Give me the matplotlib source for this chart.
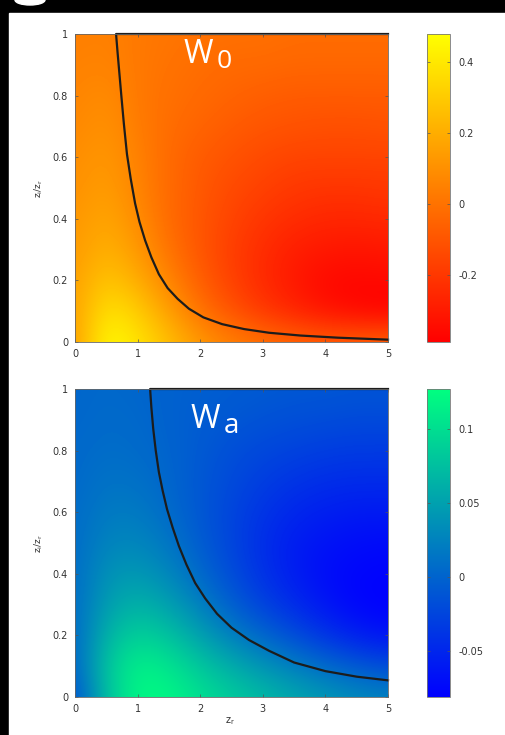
import numpy as np
import matplotlib.pyplot as plt
from matplotlib.patches import Rectangle, Ellipse

# grid of read values: rows are z_i/z_r = 0, 0.1, ... 1 ; columns z_r = 0, 0.5, ... 5
zr = [0, 0.5, 1, 1.5, 2, 2.5, 3, 3.5, 4, 4.5, 5]
zi = [0, 0.1, 0.2, 0.3, 0.4, 0.5, 0.6, 0.7, 0.8, 0.9, 1.0]

w0 = [
    [0.13, 0.48, 0.39, 0.26, 0.13, 0.05, 0.00, -0.04, -0.06, -0.06, -0.04],
    [0.15, 0.39, 0.31, 0.15, 0.00, -0.11, -0.20, -0.27, -0.33, -0.37, -0.39],
    [0.15, 0.29, 0.20, 0.06, -0.07, -0.17, -0.25, -0.31, -0.36, -0.37, -0.36],
    [0.13, 0.22, 0.13, 0.00, -0.10, -0.18, -0.24, -0.29, -0.31, -0.32, -0.31],
    [0.12, 0.18, 0.09, -0.03, -0.10, -0.16, -0.21, -0.24, -0.26, -0.26, -0.25],
    [0.10, 0.15, 0.06, -0.03, -0.09, -0.14, -0.17, -0.20, -0.21, -0.21, -0.20],
    [0.09, 0.13, 0.05, -0.03, -0.08, -0.11, -0.14, -0.16, -0.16, -0.16, -0.16],
    [0.07, 0.11, 0.03, -0.02, -0.05, -0.08, -0.10, -0.11, -0.12, -0.12, -0.11],
    [0.06, 0.09, 0.02, -0.01, -0.03, -0.05, -0.07, -0.08, -0.08, -0.08, -0.08],
    [0.05, 0.06, 0.02, 0.00, -0.02, -0.03, -0.03, -0.04, -0.04, -0.04, -0.04],
    [0.04, 0.05, 0.02, 0.01, 0.00, -0.01, -0.01, -0.02, -0.02, -0.02, -0.02],
]

wa = [
    [-0.019, 0.075, 0.123, 0.121, 0.102, 0.085, 0.071, 0.056, 0.044, 0.033, 0.027],
    [-0.002, 0.081, 0.117, 0.106, 0.081, 0.060, 0.040, 0.023, 0.006, -0.008, -0.019],
    [0.002, 0.065, 0.090, 0.077, 0.050, 0.023, 0.002, -0.019, -0.039, -0.056, -0.066],
    [0.006, 0.048, 0.065, 0.050, 0.023, -0.004, -0.027, -0.046, -0.064, -0.077, -0.081],
    [0.006, 0.038, 0.044, 0.029, 0.004, -0.019, -0.041, -0.058, -0.071, -0.077, -0.079],
    [0.006, 0.027, 0.029, 0.015, -0.006, -0.025, -0.044, -0.058, -0.066, -0.071, -0.073],
    [0.006, 0.019, 0.019, 0.006, -0.010, -0.025, -0.039, -0.050, -0.056, -0.060, -0.060],
    [0.004, 0.013, 0.011, 0.002, -0.010, -0.021, -0.031, -0.039, -0.044, -0.046, -0.046],
    [0.004, 0.008, 0.006, 0.000, -0.008, -0.017, -0.023, -0.027, -0.031, -0.033, -0.033],
    [0.002, 0.006, 0.004, -0.002, -0.006, -0.010, -0.014, -0.017, -0.019, -0.021, -0.021],
    [0.002, 0.004, 0.002, -0.002, -0.004, -0.006, -0.008, -0.010, -0.010, -0.012, -0.012],
]

# zero lines (runs along the top edge first)
c0_x = [5.0, 0.656, 0.68, 0.71, 0.74, 0.78, 0.83, 0.89, 0.96, 1.03, 1.12, 1.22, 1.34,
        1.48, 1.64, 1.82, 2.05, 2.35, 2.7, 3.1, 3.6, 4.2, 5.0]
c0_y = [1.0, 1.0, 0.94, 0.87, 0.80, 0.71, 0.61, 0.53, 0.45, 0.39, 0.33, 0.275, 0.22,
        0.175, 0.14, 0.108, 0.08, 0.058, 0.042, 0.030, 0.021, 0.014, 0.0076]
ca_x = [5.0, 1.2, 1.22, 1.25, 1.29, 1.34, 1.40, 1.47, 1.56, 1.66, 1.78, 1.92, 2.08,
        2.27, 2.5, 2.78, 3.1, 3.5, 4.0, 4.5, 5.0]
ca_y = [1.0, 1.0, 0.94, 0.87, 0.80, 0.73, 0.67, 0.61, 0.55, 0.49, 0.43, 0.37, 0.32,
        0.27, 0.225, 0.185, 0.15, 0.112, 0.084, 0.066, 0.054]

lims0 = (-0.39, 0.48)
limsa = (-0.081, 0.127)
ticks0 = [-0.2, 0, 0.2, 0.4]
ticksa = [-0.05, 0, 0.05, 0.1]

W, H = 506, 735
fig = plt.figure(figsize=(W / 100, H / 100), dpi=100, facecolor="black")
fig.patches.append(Rectangle((9 / W, 0), 1, 1 - 13 / H, transform=fig.transFigure,
                             color="white", zorder=-1))
fig.patches.append(Ellipse((30 / W, 1), 30 / W, 10 / H, transform=fig.transFigure,
                           color="white", zorder=-1))

tc = "#333333"
fs = 7


def panel(top_px, data, cmap, lims, ticks, cx, cy, label, xlabel):
    ax = fig.add_axes([75 / W, 1 - (top_px + 308) / H, 313 / W, 308 / H])
    im = ax.imshow(np.array(data), origin="lower", cmap=cmap, vmin=lims[0], vmax=lims[1],
                   extent=(-0.25, 5.25, -0.05, 1.05), interpolation="bicubic", aspect="auto")
    ax.plot(cx, cy, color="#1c1c1c", lw=1.6, solid_joinstyle="round", clip_on=False)
    ax.set_xlim(0, 5)
    ax.set_ylim(0, 1)
    ax.set_xticks([0, 1, 2, 3, 4, 5])
    ax.set_yticks([0, 0.2, 0.4, 0.6, 0.8, 1])
    ax.set_yticklabels(["0", "0.2", "0.4", "0.6", "0.8", "1"])
    ax.tick_params(direction="in", top=True, right=True, length=2.5, width=0.5,
                   labelsize=fs, labelcolor=tc, color="#555555", pad=5)
    for s in ax.spines.values():
        s.set_color("#666666")
        s.set_linewidth(0.6)
    ax.set_ylabel(r"z$_\mathregular{i}$/z$_\mathregular{r}$", fontsize=fs - 0.5, color=tc)
    ax.yaxis.set_label_coords(-0.096, 0.5)
    if xlabel:
        ax.set_xlabel(r"z$_\mathregular{r}$", fontsize=fs, color=tc)
        ax.xaxis.set_label_coords(0.495, -0.06)
    # (x, baseline y, size) in axes fraction for "W" and for the trailing glyph
    (wx, wy, ws), (sx, sy, ss, sub) = label
    ax.text(wx, wy, "W", transform=ax.transAxes, color="white", fontsize=ws,
            family="Open Sans", va="baseline")
    ax.text(sx, sy, sub, transform=ax.transAxes, color="white", fontsize=ss,
            family="Open Sans", va="baseline")

    cax = fig.add_axes([427 / W, 1 - (top_px + 308) / H, 23 / W, 308 / H])
    cb = fig.colorbar(im, cax=cax, ticks=ticks)
    cb.ax.set_yticklabels([f"{t:g}" for t in ticks])
    cb.ax.tick_params(direction="in", left=True, right=True, length=2.5, width=0.5,
                      labelsize=fs, labelcolor=tc, color="#555555", pad=6)
    cb.outline.set_edgecolor("#777777")
    cb.outline.set_linewidth(0.6)
    return ax


panel(34, w0, "autumn", lims0, ticks0, c0_x, c0_y,
      ((0.346, 0.905, 23), (0.452, 0.89, 19, "0")), False)
panel(389, wa, "winter", limsa, ticksa, ca_x, ca_y,
      ((0.368, 0.873, 23), (0.474, 0.857, 20, "a")), True)

fig.savefig("out.png", dpi=100, facecolor=fig.get_facecolor())
